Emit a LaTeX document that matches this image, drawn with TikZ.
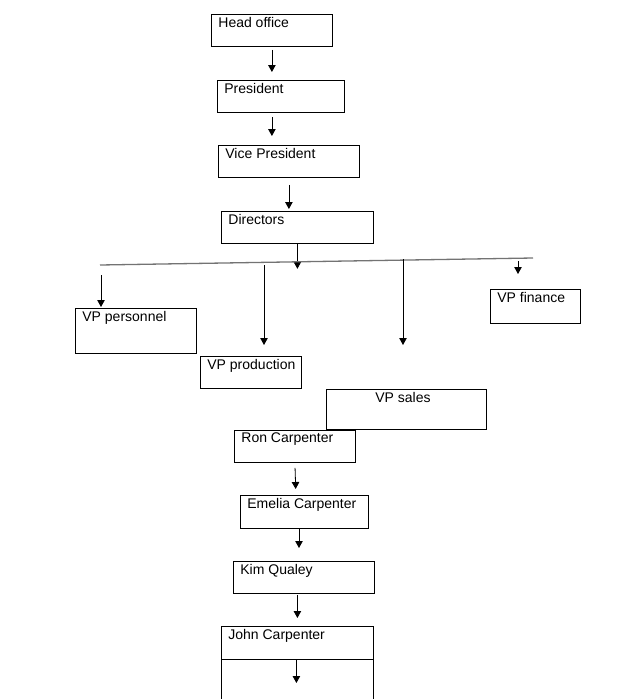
\documentclass[tikz,border=0pt]{standalone}
\usepackage{fontspec}
\setmainfont{Liberation Sans}
\usetikzlibrary{arrows.meta,positioning}
\tikzset{
  org/.style={x=1pt, y=-1pt, >={Triangle[length=7pt,width=7.5pt]}, line width=0.8pt},
  ob/.style={draw, rectangle, anchor=north west, inner sep=0pt},
  ot/.style={inner sep=0pt, font=\fontsize{14}{16}\selectfont},
  arr/.style={->},
  bar/.style={draw=black!55, line width=1.3pt}
}

\begin{document}
\begin{tikzpicture}[org]
\useasboundingbox (0,0) rectangle (621,699);
\clip (0,0) rectangle (621,699);
% top of the chart
\node[ob, minimum width=121pt, minimum height=32pt] (head) at (211,14) {};
\node[ob, minimum width=127pt, minimum height=32pt] (pres) at (217,80) {};
\node[ob, minimum width=141pt, minimum height=32pt] (vp) at (218,145) {};
\node[ob, minimum width=152pt, minimum height=32pt] (dir) at (221,211) {};
\node[ot, below right=2.5pt and 7pt of head.north west] (head-t) {Head office};
\node[ot, below right=2.5pt and 7pt of pres.north west] (pres-t) {President};
\node[ot, below right=2.5pt and 7pt of vp.north west] (vp-t) {Vice President};
\node[ot, below right=2.5pt and 7pt of dir.north west] (dir-t) {Directors};
\draw[arr, shorten <=3pt, shorten >=8pt] (head.south) -- (head.south |- pres.north);
\draw[arr, shorten <=4pt, shorten >=9pt] (pres.south -| head.south) -- (vp.north -| head.south);
\draw[arr, shorten <=7pt, shorten >=2pt] (vp.south) -- (vp.south |- dir.north);
\draw[arr] (dir.south) -- ++(0,25);
% the vice presidents
\coordinate (barL) at (100,265); \coordinate (barR) at (533,258);
\draw[bar] (barL) -- (barR);
\node[ob, minimum width=121pt, minimum height=45pt] (pers) at (75,308) {};
\node[ob, minimum width=101pt, minimum height=32pt] (prod) at (200,356) {};
\node[ob, minimum width=160pt, minimum height=40pt] (sales) at (326,389) {};
\node[ob, minimum width=90pt, minimum height=34pt] (fin) at (490,289) {};
\node[ot, below right=2.5pt and 7pt of pers.north west] (pers-t) {VP personnel};
\node[ot, below right=2.5pt and 7pt of prod.north west] (prod-t) {VP production};
\node[ot, below right=2.5pt and 49pt of sales.north west] (sales-t) {VP sales};
\node[ot, below right=2.5pt and 7pt of fin.north west] (fin-t) {VP finance};
\coordinate (d1) at (101,275);
\coordinate (d2) at (264,265); \coordinate (e2) at (264,345);
\coordinate (d3) at (403,259); \coordinate (e3) at (403,345);
\coordinate (d4) at (518,261); \coordinate (e4) at (518,274);
\draw[arr, shorten >=1pt] (d1) -- (d1 |- pers.north);
\draw[arr] (d2) -- (e2); \draw[arr] (d3) -- (e3); \draw[arr] (d4) -- (e4);
% lower chain
\node[ob, minimum width=121pt, minimum height=32pt] (ron) at (234,430) {};
\node[ob, minimum width=128pt, minimum height=33pt] (emelia) at (240,495) {};
\node[ob, minimum width=141pt, minimum height=32pt] (kim) at (233,561) {};
\node[ob, minimum width=152pt, minimum height=80pt] (john) at (221,626) {};
\node[ot, below right=2.5pt and 7pt of ron.north west] (ron-t) {Ron Carpenter};
\node[ot, below right=2.5pt and 7pt of emelia.north west] (emelia-t) {Emelia Carpenter};
\node[ot, below right=2.5pt and 7pt of kim.north west] (kim-t) {Kim Qualey};
\node[ot, below right=2.5pt and 7pt of john.north west] (john-t) {John Carpenter};
\draw[arr, shorten <=5pt, shorten >=6pt] (ron.south) -- ([xshift=1pt]ron.south |- emelia.north);
\coordinate (k1) at (299,529);
\draw[arr, shorten >=13pt] (k1) -- (k1 |- kim.north);
\draw[arr, shorten <=1pt, shorten >=8pt] (kim.south -| john.north) -- (john.north);
\draw ([yshift=-33pt]john.north west) coordinate (jl) -- ([yshift=-33pt]john.north east) coordinate (jr);
\draw[arr] ([xshift=-1pt]jl -| john.north) -- ++(0,24);
\end{tikzpicture}
\end{document}
